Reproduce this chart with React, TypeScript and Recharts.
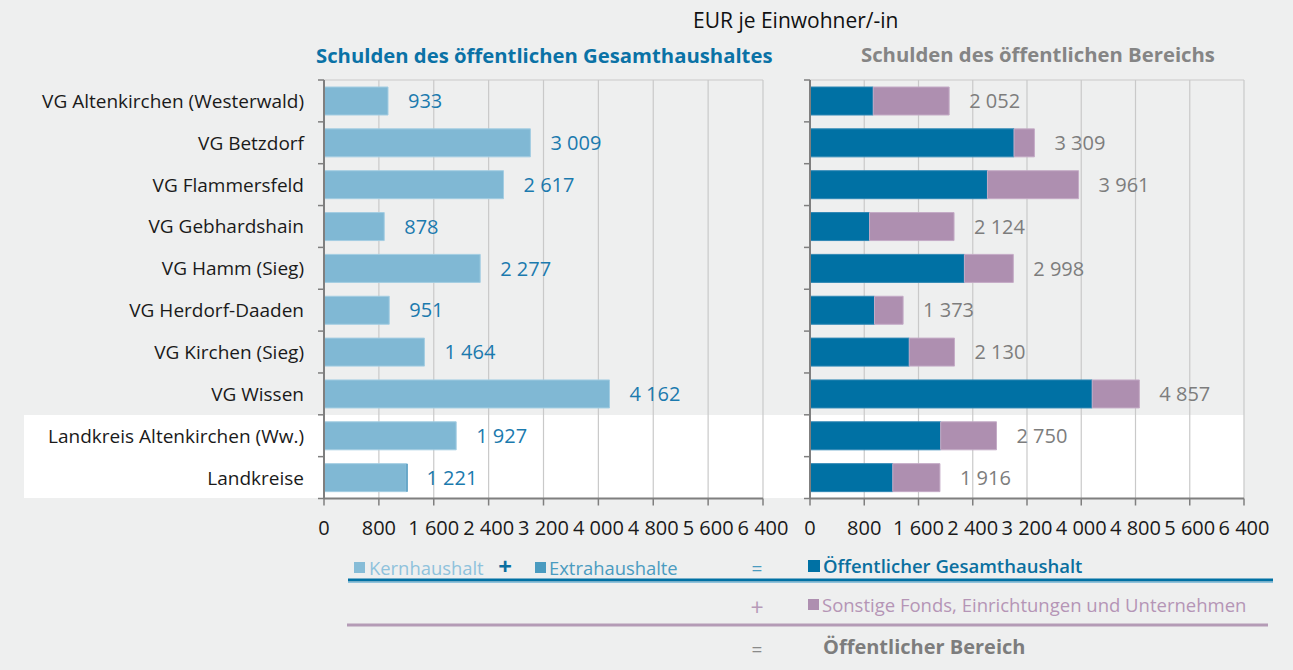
import { Bar, BarChart, CartesianGrid, LabelList, XAxis, YAxis } from 'recharts'

const categories = [
  'VG Altenkirchen (Westerwald)',
  'VG Betzdorf',
  'VG Flammersfeld',
  'VG Gebhardshain',
  'VG Hamm (Sieg)',
  'VG Herdorf-Daaden',
  'VG Kirchen (Sieg)',
  'VG Wissen',
  'Landkreis Altenkirchen (Ww.)',
  'Landkreise',
]
// Schulden des öffentlichen Gesamthaushaltes (Kernhaushalt + Extrahaushalte)
const gesamt = [933, 3009, 2617, 878, 2277, 951, 1464, 4162, 1927, 1221]
const extra = [0, 0, 0, 0, 0, 0, 0, 0, 0, 20]
// Schulden des öffentlichen Bereichs
const bereich = [2052, 3309, 3961, 2124, 2998, 1373, 2130, 4857, 2750, 1916]
const xTicks = [0, 800, 1600, 2400, 3200, 4000, 4800, 5600, 6400]

const rows = categories.map((name, i) => ({
  name,
  kern: gesamt[i] - extra[i],
  extra: extra[i],
  gesamt: gesamt[i],
  sonstige: bereich[i] - gesamt[i],
  bereich: bereich[i],
}))

const FONT = "'Open Sans', 'Noto Sans', sans-serif"
const CHART_H = 545
const TOP = 80
const BOTTOM = 11.5
const X_AXIS_H = 35
const PLOT_H = CHART_H - TOP - BOTTOM - X_AXIS_H
const BAND = PLOT_H / categories.length
const LEFT_AXIS = 324
const RIGHT_AXIS = 30
const AXIS_GREY = '#7f7f7f'

const fmt = (v: number) => String(v).replace(/\B(?=(\d{3})+(?!\d))/g, '\u00a0')

const makeTick = (axisX: number, showLabel: boolean) => (props: any) => {
  const { y, payload, index } = props
  const top = y - BAND / 2
  const bottom = y + BAND / 2
  return (
    <g>
      <line x1={axisX - 6} x2={axisX} y1={top} y2={top} stroke={AXIS_GREY} strokeWidth={1.5} />
      {index === categories.length - 1 && (
        <line x1={axisX - 6} x2={axisX} y1={bottom} y2={bottom} stroke={AXIS_GREY} strokeWidth={1.5} />
      )}
      {showLabel && (
        <text
          x={axisX - 20}
          y={y}
          textAnchor="end"
          dominantBaseline="central"
          fontSize={19}
          fill="#1a1a1a"
          fontFamily={FONT}
        >
          {payload.value}
        </text>
      )}
    </g>
  )
}

function ValueAxis() {
  return (
    <XAxis
      type="number"
      domain={[0, 6400]}
      ticks={xTicks}
      interval={0}
      tickFormatter={fmt}
      height={X_AXIS_H}
      axisLine={{ stroke: AXIS_GREY, strokeWidth: 2 }}
      tickLine={{ stroke: AXIS_GREY, strokeWidth: 1.5 }}
      tickSize={7}
      tickMargin={15}
      tick={{ fill: '#1a1a1a', fontSize: 20, fontFamily: FONT }}
    />
  )
}

export default function App() {
  const bandTop = TOP + 8 * BAND
  return (
    <div
      style={{
        position: 'absolute',
        left: 0,
        top: 0,
        width: 1293,
        height: 670,
        background: '#eeefef',
        overflow: 'hidden',
        fontFamily: FONT,
      }}
    >
      {/* white band behind the two Landkreis rows */}
      <div
        style={{
          position: 'absolute',
          left: 24,
          top: bandTop,
          width: 1220,
          height: 2 * BAND,
          background: '#ffffff',
        }}
      />

      <div style={{ position: 'absolute', left: 0, top: 0 }}>
        <BarChart
          width={790}
          height={CHART_H}
          data={rows}
          layout="vertical"
          margin={{ top: TOP, right: 27, bottom: BOTTOM, left: 0 }}
        >
          <CartesianGrid horizontalPoints={[TOP]} stroke="#c9c9c9" strokeWidth={1.2} />
          {ValueAxis()}
          <YAxis
            type="category"
            dataKey="name"
            width={LEFT_AXIS}
            interval={0}
            tickLine={false}
            axisLine={{ stroke: AXIS_GREY, strokeWidth: 2 }}
            tick={makeTick(LEFT_AXIS, true)}
          />
          <Bar dataKey="kern" stackId="k" fill="#80b8d4" stroke="#a3cde2" strokeWidth={1} barSize={28} isAnimationActive={false}>
            <LabelList
              dataKey="gesamt"
              position="right"
              offset={20}
              formatter={(v: any) => fmt(Number(v))}
              fill="#1b7aae"
              fontSize={20}
              fontFamily={FONT}
            />
          </Bar>
          <Bar dataKey="extra" stackId="k" fill="#3f8fb8" barSize={28} isAnimationActive={false} />
        </BarChart>
      </div>

      <div style={{ position: 'absolute', left: 780, top: 0 }}>
        <BarChart
          width={500}
          height={CHART_H}
          data={rows}
          layout="vertical"
          margin={{ top: TOP, right: 36, bottom: BOTTOM, left: 0 }}
        >
          <CartesianGrid horizontalPoints={[TOP]} stroke="#c9c9c9" strokeWidth={1.2} />
          {ValueAxis()}
          <YAxis
            type="category"
            dataKey="name"
            width={RIGHT_AXIS}
            interval={0}
            tickLine={false}
            axisLine={{ stroke: AXIS_GREY, strokeWidth: 2 }}
            tick={makeTick(RIGHT_AXIS, false)}
          />
          <Bar dataKey="gesamt" stackId="b" fill="#0071a4" stroke="#2f88b5" strokeWidth={1} barSize={28} isAnimationActive={false} />
          <Bar dataKey="sonstige" stackId="b" fill="#ae8fb0" stroke="#c4abc6" strokeWidth={1} barSize={28} isAnimationActive={false}>
            <LabelList
              dataKey="bereich"
              position="right"
              offset={20}
              formatter={(v: any) => fmt(Number(v))}
              fill="#7d7d7d"
              fontSize={20}
              fontFamily={FONT}
            />
          </Bar>
        </BarChart>
      </div>

      <svg
        width={1293}
        height={670}
        style={{ position: 'absolute', left: 0, top: 0, pointerEvents: 'none' }}
        fontFamily={FONT}
      >
        <text x={693} y={20} dominantBaseline="central" fontSize={21} fill="#111">
          EUR je Einwohner/-in
        </text>
        <text x={316} y={55} dominantBaseline="central" fontSize={20.3} fontWeight="bold" fill="#0a72a6">
          Schulden des öffentlichen Gesamthaushaltes
        </text>
        <text x={861} y={54} dominantBaseline="central" fontSize={20.3} fontWeight="bold" fill="#858585">
          Schulden des öffentlichen Bereichs
        </text>

        {/* legend */}
        <rect x={354} y={562} width={11} height={11} fill="#86bcd7" />
        <text x={369} y={567} dominantBaseline="central" fontSize={18.4} fill="#8fc2dc">Kernhaushalt</text>
        <text x={505} y={565} textAnchor="middle" dominantBaseline="central" fontSize={24} fontWeight="bold" fill="#0a6fa0">+</text>
        <rect x={535} y={562} width={11} height={11} fill="#4a9bc0" />
        <text x={549} y={567} dominantBaseline="central" fontSize={18.4} fill="#4a9bc0">Extrahaushalte</text>
        <text x={757} y={568} textAnchor="middle" dominantBaseline="central" fontSize={19} fill="#4a9bc0">=</text>
        <rect x={808} y={560} width={12} height={12} fill="#0071a4" />
        <text x={823} y={565} dominantBaseline="central" fontSize={18.5} fontWeight={600} fill="#0a6f9f">
          Öffentlicher Gesamthaushalt
        </text>
        <line x1={348} x2={1273} y1={580} y2={580} stroke="#0071a4" strokeWidth={3} />
        <line x1={348} x2={1273} y1={582.5} y2={582.5} stroke="#8fc2dc" strokeWidth={1} />

        <text x={757} y={607} textAnchor="middle" dominantBaseline="central" fontSize={23} fill="#b69ab8">+</text>
        <rect x={808} y={599} width={11} height={11} fill="#ae8fb0" />
        <text x={822} y={604} dominantBaseline="central" fontSize={18.5} fill="#b595b6">
          Sonstige Fonds, Einrichtungen und Unternehmen
        </text>
        <line x1={347} x2={1268} y1={625} y2={625} stroke="#b49bb6" strokeWidth={3} />

        <text x={757} y={649} textAnchor="middle" dominantBaseline="central" fontSize={19} fill="#8a8a8a">=</text>
        <text x={823} y={646} dominantBaseline="central" fontSize={20} fontWeight="bold" fill="#7d7d7d">
          Öffentlicher Bereich
        </text>
      </svg>
    </div>
  )
}
